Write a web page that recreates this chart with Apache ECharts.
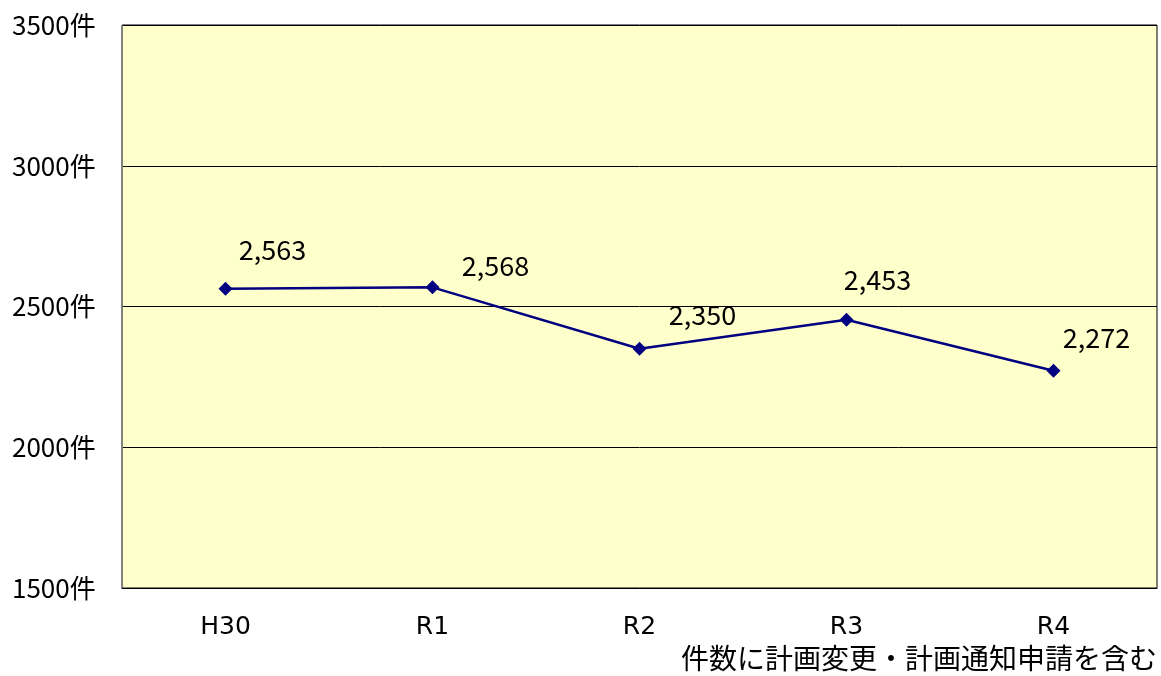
<!DOCTYPE html>
<html><head><meta charset="utf-8">
<script src="https://cdn.jsdelivr.net/npm/echarts@6/dist/echarts.min.js"></script>
<style>html,body{margin:0;padding:0;background:#fff}#c{width:1161px;height:676px}</style>
</head><body><div id="c"></div>
<script>
const categories = ['H30', 'R1', 'R2', 'R3', 'R4'];
const counts = [2563, 2568, 2350, 2453, 2272];
const yTicks = [1500, 2000, 2500, 3000, 3500];
const unit = '件';
const note = '件数に計画変更・計画通知申請を含む';

const labelShift = [[47, -39], [63, -22], [63, -34], [31, -40], [43, -33]];
const chart = echarts.init(document.getElementById('c'));
const font = '"Noto Sans CJK JP", "Noto Sans", sans-serif';
chart.setOption({
  animation: false,
  grid: { left: 122, right: 4, top: 25, bottom: 88, show: true, backgroundColor: '#FFFFCC', borderColor: '#000', borderWidth: 1 },
  xAxis: [{
    type: 'category', data: categories, position: 'bottom',
    axisLine: { lineStyle: { color: '#000' } },
    axisTick: { alignWithLabel: true, length: 7, lineStyle: { color: '#808080' } },
    axisLabel: { color: '#000', fontSize: 25, fontFamily: '"DejaVu Sans", sans-serif', margin: 27 }
  }, {
    type: 'category', data: categories, position: 'bottom',
    axisLine: { show: false },
    axisTick: { inside: true, length: 7, lineStyle: { color: '#808080' } },
    axisLabel: { show: false }
  }],
  yAxis: {
    type: 'value', min: yTicks[0], max: yTicks[yTicks.length - 1], interval: 500,
    axisLine: { show: true, lineStyle: { color: '#808080' } },
    axisTick: { show: false },
    splitLine: { lineStyle: { color: '#000', width: 1 } },
    axisLabel: { color: '#000', fontSize: 26, fontFamily: font, align: 'left', margin: 110, formatter: v => v + unit }
  },
  series: [{
    type: 'line', data: counts.map((v, i) => ({ value: v, label: { offset: labelShift[i] } })),
    symbol: 'diamond', symbolSize: 14,
    lineStyle: { color: '#000080', width: 2.5 },
    itemStyle: { color: '#000080' },
    label: { show: true, position: 'inside', color: '#000', fontSize: 27, fontFamily: font,
      formatter: p => p.value.toLocaleString('en-US') }
  }],
  graphic: [{ type: 'text', right: 4, top: 644, style: { text: note, fill: '#000', font: '28px ' + font } }]
});
</script></body></html>
